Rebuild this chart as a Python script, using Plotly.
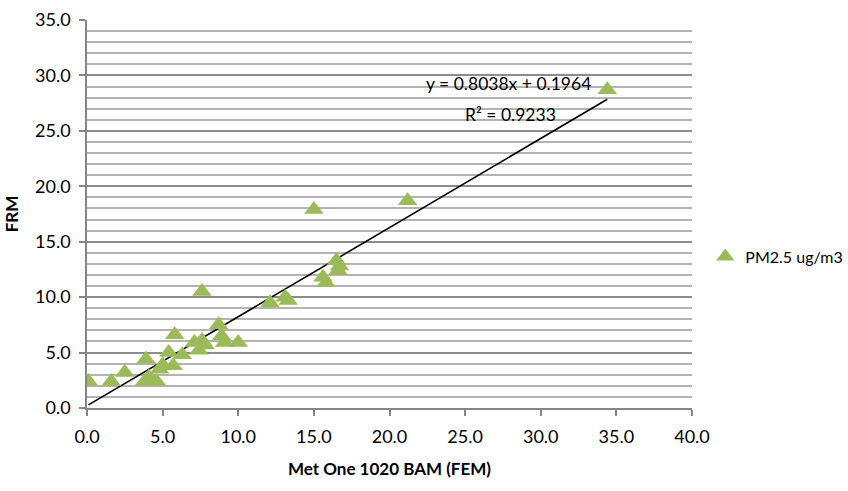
import plotly.graph_objects as go

# Data
bam_fem = [0.1, 1.6, 2.5, 3.9, 3.8, 4.1, 4.6, 4.8, 5.0, 5.4, 5.7, 5.8, 6.3,
           7.1, 7.4, 7.6, 7.6, 7.8, 8.7, 8.9, 9.1, 10.0, 12.1, 13.1, 13.3,
           15.0, 15.6, 15.8, 16.5, 16.6, 16.7, 21.2, 34.4]
frm = [2.4, 2.4, 3.2, 4.4, 2.4, 2.8, 2.4, 3.5, 3.9, 5.0, 3.8, 6.6, 4.8,
       5.9, 5.2, 10.5, 6.1, 5.7, 7.5, 6.5, 5.9, 5.9, 9.5, 10.0, 9.7,
       17.9, 11.8, 11.3, 13.3, 12.4, 12.8, 18.7, 28.7]

slope = 0.8038
intercept = 0.1964
r_squared = 0.9233

series_name = "PM2.5 ug/m3"
x_title = "Met One 1020 BAM (FEM)"
y_title = "FRM"

FONT = "Lato, 'Open Sans', sans-serif"

trend_x = [min(bam_fem), max(bam_fem)]
trend_y = [slope * v + intercept for v in trend_x]

fig = go.Figure()
fig.add_trace(go.Scatter(
    x=trend_x, y=trend_y, mode="lines",
    line=dict(color="black", width=1.6), showlegend=False, hoverinfo="skip"))
fig.add_trace(go.Scatter(
    x=bam_fem, y=frm, mode="markers", name=series_name,
    marker=dict(symbol="triangle-up", size=17, color="#9BBB59",
                line=dict(width=0))))

fig.add_annotation(x=27.9, y=29.3, xref="x", yref="y", showarrow=False,
                   text=f"y = {slope}x + {intercept}",
                   font=dict(family=FONT, size=17.5, color="black"))
fig.add_annotation(x=28.0, y=26.5, xref="x", yref="y", showarrow=False,
                   text=f"R² = {r_squared}",
                   font=dict(family=FONT, size=17.5, color="black"))

fig.update_layout(
    width=848, height=491,
    margin=dict(l=87, r=156, t=20, b=83, autoexpand=False),
    paper_bgcolor="white", plot_bgcolor="white",
    font=dict(family=FONT, size=18, color="black"),
    legend=dict(x=1.022, y=0.39, xanchor="left", yanchor="middle",
                font=dict(family=FONT, size=16, color="black"),
                bgcolor="rgba(0,0,0,0)", itemwidth=30),
)
fig.update_xaxes(
    range=[0, 40], dtick=5, tickformat=".1f",
    showgrid=False, zeroline=False,
    showline=True, linecolor="#868686", linewidth=1.5,
    ticks="outside", ticklen=6, tickcolor="#868686", tickwidth=1.5,
    ticklabelstandoff=6,
    tickfont=dict(family=FONT, size=18, color="black"),
    title=dict(text=f"<b>{x_title}</b>", standoff=17,
               font=dict(family=FONT, size=17, color="black")),
)
fig.update_yaxes(
    range=[0, 35], dtick=5, tickformat=".1f",
    showgrid=True, gridcolor="#8c8c8c", gridwidth=1.5,
    minor=dict(dtick=1, showgrid=True, gridcolor="#b3b3b3", gridwidth=1.5),
    zeroline=False,
    showline=True, linecolor="#868686", linewidth=1.5,
    ticks="outside", ticklen=6, tickcolor="#868686", tickwidth=1.5,
    ticklabelstandoff=5,
    tickfont=dict(family=FONT, size=18, color="black"),
    title=dict(text=f"<b>{y_title}</b>", standoff=12,
               font=dict(family=FONT, size=17, color="black")),
)

fig.write_html("out.html")
